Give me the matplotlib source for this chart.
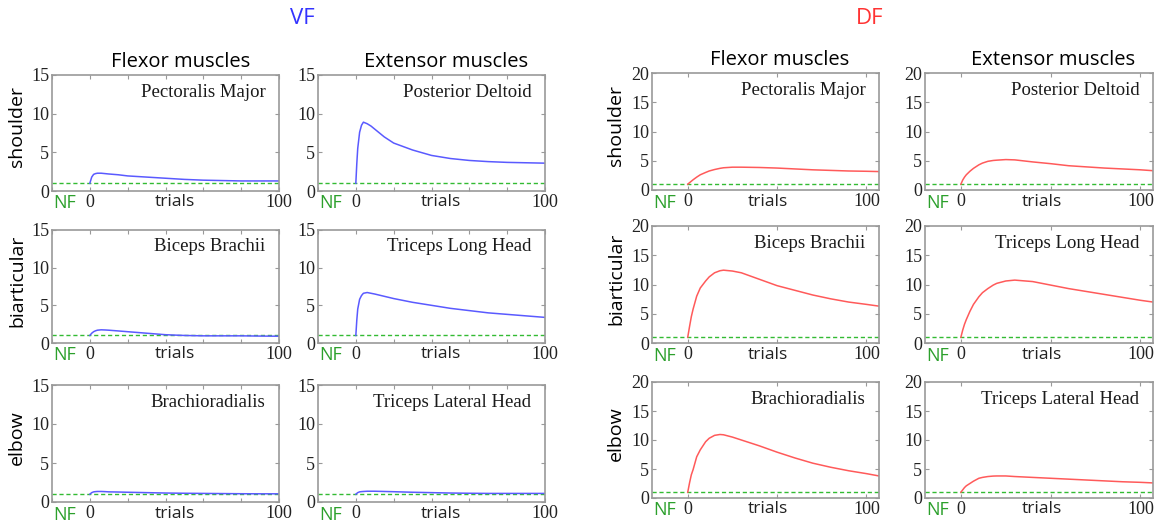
import matplotlib
matplotlib.use("Agg")
from matplotlib import pyplot as plt

# trial numbers where the curves were sampled
vf_trials = [0, 0.5, 1, 2, 3, 4, 6, 8, 10, 15, 20, 30, 40, 50, 60, 70, 80, 90, 100]
df_trials = [0, 1, 2, 3, 5, 7, 10, 12, 15, 18, 20, 25, 30, 40, 50, 60, 70, 80, 90, 100, 107]

# VF (velocity-dependent field) muscle curves
vf_pect_major = [1.0, 1.4, 1.8, 2.15, 2.25, 2.3, 2.3, 2.25, 2.2, 2.1, 1.95, 1.8, 1.65, 1.5, 1.4, 1.35, 1.3, 1.3, 1.3]
vf_post_deltoid = [1.0, 3.5, 5.5, 7.6, 8.5, 8.9, 8.7, 8.4, 8.0, 7.0, 6.2, 5.3, 4.6, 4.2, 3.95, 3.8, 3.7, 3.65, 3.6]
vf_biceps = [1.0, 1.15, 1.3, 1.5, 1.62, 1.7, 1.75, 1.73, 1.7, 1.6, 1.5, 1.3, 1.1, 1.0, 0.95, 0.95, 0.95, 0.92, 0.9]
vf_triceps_long = [1.0, 3.0, 4.5, 5.8, 6.3, 6.6, 6.7, 6.6, 6.5, 6.2, 5.9, 5.4, 5.0, 4.6, 4.3, 4.0, 3.8, 3.6, 3.4]
vf_brachiorad = [1.0, 1.1, 1.2, 1.3, 1.33, 1.35, 1.35, 1.33, 1.3, 1.28, 1.25, 1.2, 1.15, 1.12, 1.1, 1.08, 1.06, 1.05, 1.05]
vf_triceps_lat = [1.0, 1.1, 1.2, 1.3, 1.33, 1.35, 1.38, 1.38, 1.38, 1.35, 1.32, 1.25, 1.2, 1.15, 1.12, 1.1, 1.1, 1.1, 1.1]

# DF (divergent field) muscle curves
df_pect_major = [1.0, 1.25, 1.5, 1.75, 2.2, 2.6, 3.0, 3.25, 3.5, 3.7, 3.8, 3.9, 3.9,
                 3.85, 3.75, 3.6, 3.45, 3.35, 3.25, 3.2, 3.15]
df_post_deltoid = [1.0, 1.7, 2.2, 2.6, 3.2, 3.7, 4.3, 4.6, 4.9, 5.05, 5.1, 5.2, 5.15,
                   4.8, 4.5, 4.15, 3.95, 3.75, 3.6, 3.45, 3.3]
df_biceps = [1.0, 2.8, 4.5, 5.8, 8.0, 9.4, 10.6, 11.3, 12.0, 12.35, 12.45, 12.3, 12.0,
             10.9, 9.8, 9.0, 8.2, 7.55, 7.0, 6.6, 6.3]
df_triceps_long = [1.0, 2.2, 3.2, 4.0, 5.4, 6.6, 7.9, 8.6, 9.3, 9.9, 10.2, 10.6, 10.75,
                   10.5, 9.9, 9.3, 8.8, 8.3, 7.8, 7.3, 7.0]
df_brachiorad = [1.0, 2.6, 4.0, 4.9, 7.1, 8.3, 9.7, 10.3, 10.8, 10.95, 10.9, 10.5, 10.0,
                 9.0, 7.9, 6.9, 6.0, 5.3, 4.7, 4.2, 3.8]
df_triceps_lat = [1.0, 1.4, 1.8, 2.1, 2.5, 2.9, 3.4, 3.55, 3.7, 3.78, 3.8, 3.8, 3.7,
                  3.55, 3.4, 3.25, 3.1, 2.95, 2.8, 2.7, 2.6]

muscle_names = [["Pectoralis Major", "Posterior Deltoid"],
                ["Biceps Brachii", "Triceps Long Head"],
                ["Brachioradialis", "Triceps Lateral Head"]]
joint_names = ["shoulder", "biarticular", "elbow"]
column_names = ["Flexor muscles", "Extensor muscles"]

vf_curves = [[vf_pect_major, vf_post_deltoid],
             [vf_biceps, vf_triceps_long],
             [vf_brachiorad, vf_triceps_lat]]
df_curves = [[df_pect_major, df_post_deltoid],
             [df_biceps, df_triceps_long],
             [df_brachiorad, df_triceps_lat]]

W, H = 1166, 525
SERIF = "Liberation Serif"
SANS = "Open Sans"
GREEN = "#2ca02c"

fig = plt.figure(figsize=(W / 100, H / 100), dpi=100)


def px_axes(x0, x1, y0, y1):
    return fig.add_axes([x0 / W, 1 - y1 / H, (x1 - x0) / W, (y1 - y0) / H])


def fig_text(x, y, s, **kw):
    fig.text(x / W, 1 - y / H, s, **kw)


def draw_panel(ax, trials, values, color, xmax, ymax, xticks, name):
    ax.axhline(1, color="#33bb33", lw=1.0, ls=(0, (3, 2)))
    ax.plot(trials, values, color=color, lw=1.1)
    ax.set_xlim(-20, xmax)
    ax.set_ylim(0, ymax)
    ax.set_xticks(xticks)
    ax.set_xticklabels(["0" if t == 0 else "100" if t == 100 else "" for t in xticks])
    ax.set_yticks(range(0, ymax + 1, 5))
    ax.tick_params(direction="in", length=3, width=0.8, color="#999999",
                   top=True, right=True, labelsize=13, pad=2)
    for lab in ax.get_xticklabels() + ax.get_yticklabels():
        lab.set_fontfamily(SERIF)
        lab.set_color("#222222")
    for sp in ax.spines.values():
        sp.set_color("#999999")
        sp.set_linewidth(1.2)
    ax.text(0.005, -0.03, "NF", transform=ax.transAxes, ha="left", va="top",
            color=GREEN, fontsize=13, family=SANS)
    ax.text(45, -ymax * 0.03, "trials", ha="center", va="top",
            fontsize=12.5, family=SANS, color="#222222")
    ax.text(0.94, 0.85, name, transform=ax.transAxes, ha="right", va="center",
            fontsize=13.5, family=SERIF, color="#1a1a1a")


# VF block
vf_cols = [(52, 279), (318, 545)]
vf_rows = [(75, 191), (230, 343), (385, 502)]
for r in range(3):
    for c in range(2):
        ax = px_axes(*vf_cols[c], *vf_rows[r])
        draw_panel(ax, vf_trials, vf_curves[r][c], "#5a5aff", 100, 15,
                   [-20, 0, 20, 40, 60, 80, 100], muscle_names[r][c])
    fig_text(17, (vf_rows[r][0] + vf_rows[r][1]) / 2 - 6, joint_names[r],
             rotation=90, ha="center", va="center", fontsize=14, family=SANS)
for c in range(2):
    fig_text((vf_cols[c][0] + vf_cols[c][1]) / 2 + 15, 62, column_names[c],
             ha="center", va="center", fontsize=14.5, family=SANS)
fig_text(302, 18, "VF", ha="center", va="center", fontsize=16, family=SANS,
         color="#3333ff")

# DF block
df_cols = [(652, 879), (925, 1153)]
df_rows = [(73, 190), (226, 343), (382, 498)]
for r in range(3):
    for c in range(2):
        ax = px_axes(*df_cols[c], *df_rows[r])
        draw_panel(ax, df_trials, df_curves[r][c], "#ff5a5a", 107, 20,
                   [0, 50, 100], muscle_names[r][c])
    fig_text(616, (df_rows[r][0] + df_rows[r][1]) / 2 - 6, joint_names[r],
             rotation=90, ha="center", va="center", fontsize=14, family=SANS)
for c in range(2):
    fig_text((df_cols[c][0] + df_cols[c][1]) / 2 + 14, 60, column_names[c],
             ha="center", va="center", fontsize=14.5, family=SANS)
fig_text(870, 18, "DF", ha="center", va="center", fontsize=16, family=SANS,
         color="#ff3333")

fig.savefig("out.png", dpi=100)
